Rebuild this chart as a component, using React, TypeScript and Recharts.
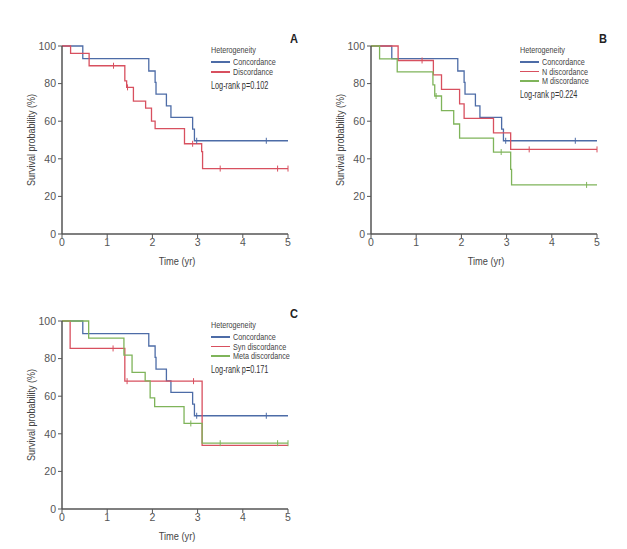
import { ComposedChart, Line, Scatter, XAxis, YAxis } from "recharts";

const BLUE = "#4d6ca7";
const RED = "#d8505f";
const GREEN = "#7fb45a";
const FONT = '"Liberation Sans Narrow", "Arial Narrow", "Liberation Sans", sans-serif';

const xTicks = [0, 1, 2, 3, 4, 5];
const yTicks = [0, 20, 40, 60, 80, 100];

// concordance curve, same in all three panels
const concordTime = [0, 0.46, 1.92, 2.06, 2.08, 2.31, 2.41, 2.89, 2.93, 5];
const concordSurv = [100, 93.3, 86.7, 80.6, 74.4, 68.2, 62.0, 55.8, 49.6, 49.6];
const concordCensor = [2.98, 4.52];

// panel A
const discordTime = [0, 0.19, 0.6, 1.39, 1.43, 1.58, 1.85, 1.98, 2.06, 2.71, 3.09, 3.11, 5];
const discordSurv = [100, 96.1, 89.5, 81.5, 78.0, 70.7, 67.0, 60.0, 56.0, 48.0, 43.8, 34.8, 34.8];
const discordCensor = [1.14, 1.45, 2.89, 3.5, 4.77, 5];

// panel B
const nDiscTime = [0, 0.6, 1.38, 1.56, 1.96, 2.06, 2.71, 3.09, 5];
const nDiscSurv = [100, 92.3, 84.6, 76.9, 69.2, 61.5, 53.8, 45.0, 45.0];
const nDiscCensor = [1.13, 3.5, 5];

const mDiscTime = [0, 0.19, 0.58, 1.37, 1.41, 1.56, 1.83, 1.96, 2.71, 3.09, 3.11, 5];
const mDiscSurv = [100, 93.1, 86.2, 79.3, 73.4, 65.6, 58.5, 51.0, 43.6, 34.4, 26.1, 26.1];
const mDiscCensor = [1.44, 2.88, 4.77];

// panel C
const synDiscTime = [0, 0.18, 1.39, 3.1, 5];
const synDiscSurv = [100, 85.4, 68.0, 33.8, 33.8];
const synDiscCensor = [1.13, 1.44, 2.91];

const metaDiscTime = [0, 0.59, 1.37, 1.55, 1.84, 1.95, 2.05, 2.7, 3.1, 5];
const metaDiscSurv = [100, 90.9, 81.8, 72.7, 68.2, 59.1, 54.5, 45.5, 35.0, 35.0];
const metaDiscCensor = [2.85, 3.5, 4.77, 5];

type Pt = { t: number; s: number };
type Curve = { name: string; color: string; steps: Pt[]; censors: Pt[] };

function toSteps(times: number[], surv: number[]): Pt[] {
  return times.map((t, i) => ({ t, s: surv[i] }));
}

// censor ticks sit on the curve at that time
function toCensors(times: number[], surv: number[], censor: number[]): Pt[] {
  return censor.map((c) => {
    let s = surv[0];
    times.forEach((t, i) => {
      if (t <= c) s = surv[i];
    });
    return { t: c, s };
  });
}

function makeCurve(name: string, color: string, times: number[], surv: number[], censor: number[]): Curve {
  return { name, color, steps: toSteps(times, surv), censors: toCensors(times, surv, censor) };
}

const panelA = [
  makeCurve("Concordance", BLUE, concordTime, concordSurv, concordCensor),
  makeCurve("Discordance", RED, discordTime, discordSurv, discordCensor),
];
const panelB = [
  makeCurve("Concordance", BLUE, concordTime, concordSurv, concordCensor),
  makeCurve("N discordance", RED, nDiscTime, nDiscSurv, nDiscCensor),
  makeCurve("M discordance", GREEN, mDiscTime, mDiscSurv, mDiscCensor),
];
const panelC = [
  makeCurve("Concordance", BLUE, concordTime, concordSurv, concordCensor),
  makeCurve("Syn discordance", RED, synDiscTime, synDiscSurv, synDiscCensor),
  makeCurve("Meta discordance", GREEN, metaDiscTime, metaDiscSurv, metaDiscCensor),
];

const tickStyle = { fill: "#555", fontSize: 10.5, fontFamily: FONT };

// no narrow font installed, so squeeze the text a bit
function Narrow({ children, sx = 0.8 }: { children: any; sx?: number }) {
  return (
    <span style={{ display: "inline-block", transform: `scaleX(${sx})`, transformOrigin: "left center", whiteSpace: "nowrap" }}>
      {children}
    </span>
  );
}

interface PanelProps {
  left: number;
  top: number;
  curves: Curve[];
  letter: string;
  pValue: string;
  rowGap: number;
  pGap: number;
}

function KMPanel({ left, top, curves, letter, pValue, rowGap, pGap }: PanelProps) {
  const legendX = 211;
  const legendY = 50;
  return (
    <div style={{ position: "absolute", left, top, width: 310, height: 280 }}>
      <ComposedChart width={310} height={280} margin={{ top: 46, right: 22, bottom: 16, left: 22 }}>
        <XAxis
          dataKey="t"
          type="number"
          domain={[0, 5]}
          ticks={xTicks}
          height={30}
          tick={tickStyle}
          tickSize={4}
          tickMargin={1}
          axisLine={{ stroke: "#555", strokeWidth: 1.5 }}
          tickLine={{ stroke: "#555" }}
        />
        <YAxis
          dataKey="s"
          type="number"
          domain={[0, 100]}
          ticks={yTicks}
          width={40}
          tick={tickStyle}
          tickSize={4}
          tickMargin={2}
          axisLine={{ stroke: "#555", strokeWidth: 1.5 }}
          tickLine={{ stroke: "#555" }}
        />
        {curves.map((c) => (
          <Line
            key={c.name}
            data={c.steps}
            dataKey="s"
            type="stepAfter"
            stroke={c.color}
            strokeWidth={1.3}
            dot={false}
            activeDot={false}
            isAnimationActive={false}
          />
        ))}
        {curves.map((c) => (
          <Scatter
            key={c.name + "-censor"}
            data={c.censors}
            dataKey="s"
            isAnimationActive={false}
            shape={(p: any) => (
              <line x1={p.cx} x2={p.cx} y1={p.cy - 3} y2={p.cy + 3} stroke={c.color} strokeWidth={1} />
            )}
          />
        ))}
      </ComposedChart>

      <div
        style={{
          position: "absolute",
          left: 31,
          top: 140,
          transform: "translate(-50%, -50%) rotate(-90deg) scaleX(0.82)",
          whiteSpace: "nowrap",
          fontFamily: FONT,
          fontSize: 11,
          color: "#444",
        }}
      >
        Survival probability (%)
      </div>
      <div
        style={{
          position: "absolute",
          left: 177,
          top: 261,
          transform: "translate(-50%, -50%) scaleX(0.84)",
          whiteSpace: "nowrap",
          fontFamily: FONT,
          fontSize: 11,
          color: "#444",
        }}
      >
        Time (yr)
      </div>

      <div
        style={{
          position: "absolute",
          left: 290,
          top: 31,
          fontFamily: FONT,
          fontSize: 13,
          fontWeight: "bold",
          color: "#222",
        }}
      >
        <Narrow sx={0.85}>{letter}</Narrow>
      </div>

      <div style={{ position: "absolute", left: legendX, top: legendY - 5, fontFamily: FONT, fontSize: 9, color: "#444", lineHeight: "10px" }}>
        <Narrow sx={0.8}>Heterogeneity</Narrow>
      </div>
      {curves.map((c, i) => (
        <div
          key={c.name}
          style={{
            position: "absolute",
            left: legendX,
            top: legendY + 12 + i * rowGap - 5,
            display: "flex",
            alignItems: "center",
            fontFamily: FONT,
            fontSize: 9,
            color: "#444",
            lineHeight: "10px",
            whiteSpace: "nowrap",
          }}
        >
          <span style={{ display: "inline-block", width: 19, height: 1.3, background: c.color, marginRight: 3 }} />
          <Narrow sx={0.8}>{c.name}</Narrow>
        </div>
      ))}
      <div
        style={{
          position: "absolute",
          left: legendX,
          top: legendY + 12 + (curves.length - 1) * rowGap + pGap - 6,
          fontFamily: FONT,
          fontSize: 10,
          color: "#333",
          lineHeight: "12px",
          whiteSpace: "nowrap",
        }}
      >
        <Narrow sx={0.73}>{pValue}</Narrow>
      </div>
    </div>
  );
}

export default function App() {
  return (
    <div style={{ position: "absolute", left: 0, top: 0, width: 627, height: 549, background: "#fff" }}>
      <KMPanel left={0} top={0} curves={panelA} letter="A" pValue="Log-rank p=0.102" rowGap={10} pGap={14} />
      <KMPanel left={309} top={0} curves={panelB} letter="B" pValue="Log-rank p=0.224" rowGap={9.5} pGap={14} />
      <KMPanel left={0} top={275} curves={panelC} letter="C" pValue="Log-rank p=0.171" rowGap={9.5} pGap={14} />
    </div>
  );
}
